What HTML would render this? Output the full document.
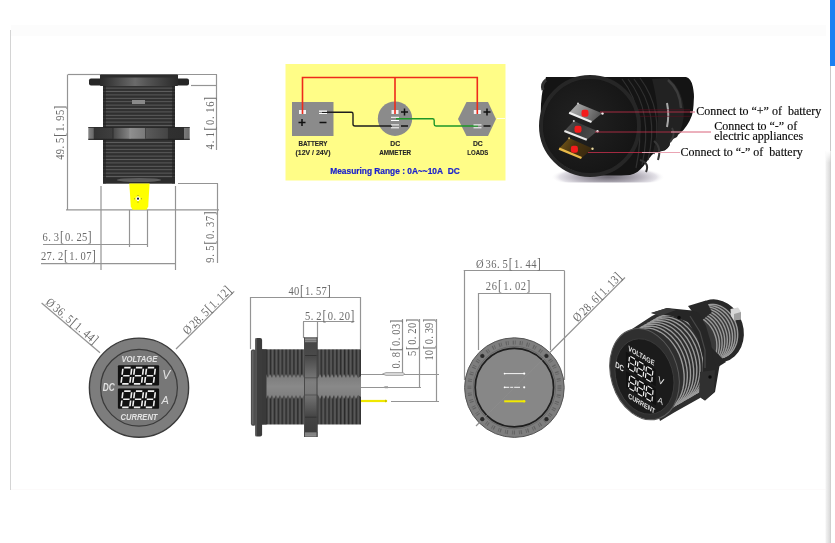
<!DOCTYPE html>
<html><head><meta charset="utf-8"><title>Dimensions</title>
<style>
html,body{margin:0;padding:0;background:#fff;width:835px;height:543px;overflow:hidden}
svg{display:block;position:absolute;left:0;top:0;will-change:transform}
text{font-family:"Liberation Serif",serif}
.dim{font-family:"Liberation Serif",serif;font-size:12.4px;fill:#6a6a6a}
.br{font-size:13.6px}
.phi{font-size:12.4px}
.ln{stroke:#949494;stroke-width:1.2;fill:none}
.sans, .sans text, text.sans{font-family:"Liberation Sans",sans-serif}
</style></head>
<body>
<svg width="835" height="543" viewBox="0 0 835 543">
<defs>
  <pattern id="hthread" x="0" y="86" width="8" height="3.4" patternUnits="userSpaceOnUse">
    <rect width="8" height="3.4" fill="#2f2f2f"/>
    <rect y="1.6" width="8" height="1" fill="#5e5e5e"/>
  </pattern>
  <linearGradient id="nutg" x1="88.3" x2="189.7" y1="0" y2="0" gradientUnits="userSpaceOnUse">
    <stop offset="0" stop-color="#858585"/>
    <stop offset="0.05" stop-color="#6a6a6a"/>
    <stop offset="0.055" stop-color="#343434"/>
    <stop offset="0.24" stop-color="#3e3e3e"/>
    <stop offset="0.25" stop-color="#4a4a4a"/>
    <stop offset="0.41" stop-color="#868686"/>
    <stop offset="0.42" stop-color="#8e8e8e"/>
    <stop offset="0.56" stop-color="#7a7a7a"/>
    <stop offset="0.57" stop-color="#5a5a5a"/>
    <stop offset="0.78" stop-color="#454545"/>
    <stop offset="0.79" stop-color="#303030"/>
    <stop offset="0.94" stop-color="#2e2e2e"/>
    <stop offset="0.945" stop-color="#7a7a7a"/>
    <stop offset="1" stop-color="#6a6a6a"/>
  </linearGradient>
  <linearGradient id="capg" x1="0" x2="1" y1="0" y2="0">
    <stop offset="0" stop-color="#2a2a2a"/>
    <stop offset="0.45" stop-color="#6a6a6a"/>
    <stop offset="0.6" stop-color="#555"/>
    <stop offset="1" stop-color="#2a2a2a"/>
  </linearGradient>
</defs>

<!-- page frame -->
<rect x="0" y="0" width="835" height="543" fill="#fff"/>
<line x1="10.5" y1="30" x2="10.5" y2="490" stroke="#d4d4d4"/>
<rect x="11" y="25" width="815" height="11" fill="#fcfcfc"/>
<line x1="11" y1="489.5" x2="826" y2="489.5" stroke="#fcfafa"/>
<rect x="830" y="0" width="5" height="66" fill="#1b80f2"/>
<line x1="830.5" y1="66" x2="830.5" y2="543" stroke="#c9c9c9"/>
<linearGradient id="sbg" x1="0" x2="1" y1="0" y2="0"><stop offset="0" stop-color="#f4f4f4"/><stop offset="0.5" stop-color="#e6e6e6"/><stop offset="1" stop-color="#d6d6d6"/></linearGradient>
<linearGradient id="sbfade" x1="0" x2="0" y1="0" y2="1"><stop offset="0" stop-color="#fff" stop-opacity="1"/><stop offset="1" stop-color="#fff" stop-opacity="0"/></linearGradient>
<rect x="825.5" y="151" width="5" height="392" fill="url(#sbg)"/>
<rect x="825.5" y="151" width="5" height="12" fill="url(#sbfade)"/>

<!-- ============ DEVICE 1 (top-left side view) ============ -->
<g id="dev1">
  <!-- dimension lines -->
  <line class="ln" x1="68" y1="74.5" x2="100" y2="74.5"/>
  <line class="ln" x1="67.5" y1="74.5" x2="67.5" y2="210"/>
  <line class="ln" x1="66" y1="209.8" x2="219" y2="209.8"/>
  <line class="ln" x1="178" y1="74.5" x2="217" y2="74.5"/>
  <line class="ln" x1="191" y1="85.5" x2="217" y2="85.5"/>
  <line class="ln" x1="216.5" y1="74.5" x2="216.5" y2="150"/>
  <line class="ln" x1="178" y1="183.5" x2="218" y2="183.5"/>
  <line class="ln" x1="217.5" y1="183.5" x2="217.5" y2="263"/>
  <line class="ln" x1="101" y1="186" x2="101" y2="270"/>
  <line class="ln" x1="175.5" y1="186" x2="175.5" y2="270"/>
  <line class="ln" x1="129.5" y1="210" x2="129.5" y2="247"/>
  <line class="ln" x1="147.5" y1="210" x2="147.5" y2="247"/>
  <line class="ln" x1="43" y1="244.5" x2="148" y2="244.5"/>
  <line class="ln" x1="41" y1="263.6" x2="176" y2="263.6"/>
  <text class="dim" transform="scale(0.85,1)" x="50.06 56.69 63.34 70.56 76.61 83.26 89.89 96.54 103.18" y="241.5">6.3<tspan class="br">[</tspan>0.25<tspan class="br">]</tspan></text>
  <text class="dim" transform="scale(0.85,1)" x="48.18 54.84 61.49 68.15 75.40 81.48 88.14 94.80 101.46 108.12" y="259.6">27.2<tspan class="br">[</tspan>1.07<tspan class="br">]</tspan></text>
  <text class="dim" x="0.00 6.56 13.14 19.71 26.86 32.85 39.41 45.98 52.55 59.12" transform="translate(64.1,159.7) rotate(-90) scale(0.85,1)">49.5<tspan class="br">[</tspan>1.95<tspan class="br">]</tspan></text>
  <text class="dim" x="0.00 7.16 14.34 22.09 28.68 35.85 43.01 50.19 57.35" transform="translate(214.3,149.4) rotate(-90) scale(0.85,1)">4.1<tspan class="br">[</tspan>0.16<tspan class="br">]</tspan></text>
  <text class="dim" x="0.00 6.98 13.95 21.52 27.91 34.89 41.87 48.85 55.82" transform="translate(214.3,262.7) rotate(-90) scale(0.85,1)">9.5<tspan class="br">[</tspan>0.37<tspan class="br">]</tspan></text>

  <!-- body -->
  <rect x="103" y="86" width="72" height="97.5" fill="url(#hthread)"/>
  <rect x="103" y="86" width="3" height="97.5" fill="#222" opacity="0.6"/>
  <rect x="172" y="86" width="3" height="97.5" fill="#222" opacity="0.6"/>
  <rect x="132" y="100" width="13" height="4" fill="#8a8a8a"/>
  <!-- bottom highlight -->
  <rect x="103" y="178" width="72" height="5.5" fill="#2c2c2c"/>
  <ellipse cx="139" cy="180" rx="22" ry="2" fill="#6a6a6a" opacity="0.8"/>
  <!-- cap/flange -->
  <rect x="89" y="78.5" width="100" height="7" rx="2" fill="#262626"/>
  <rect x="100" y="74.5" width="78" height="11.5" rx="1" fill="url(#capg)"/>
  <rect x="100" y="74.5" width="78" height="3" fill="#2c2c2c"/>
  <!-- nut -->
  <g>
    <rect x="88.3" y="127.2" width="101.4" height="12.6" fill="url(#nutg)"/>
    <rect x="88.3" y="127.2" width="101.4" height="0.8" fill="#222"/>
    <rect x="88.3" y="138.8" width="101.4" height="1" fill="#1e1e1e"/>
    <rect x="112.6" y="128" width="0.8" height="10.8" fill="#2a2a2a"/>
    <rect x="129.6" y="128" width="0.8" height="10.8" fill="#9a9a9a"/>
    <rect x="145" y="128" width="0.8" height="10.8" fill="#3a3a3a"/>
  </g>
  <!-- yellow terminal -->
  <path d="M129.3 183.6 L149.6 183.6 L148.2 206.5 L146.5 209.7 L132.5 209.7 L130.8 206.5 Z" fill="#ffff00"/>
  <path d="M135.7 198.7 h4.6 M138 196.4 v4.6" stroke="#fff" stroke-width="2.2"/>
  <circle cx="138" cy="198.7" r="1.1" fill="#1a1a3a"/>
  <g fill="#6a6a30"><circle cx="138" cy="195.4" r="0.5"/><circle cx="138" cy="202.1" r="0.5"/><circle cx="134.6" cy="198.7" r="0.5"/><circle cx="141.4" cy="198.7" r="0.5"/></g>
</g>

<!-- ============ WIRING DIAGRAM (yellow box) ============ -->
<g id="wiring">
  <rect x="285.5" y="64" width="220" height="116.5" fill="#fffd87"/>
  <!-- battery -->
  <rect x="292" y="102" width="41.5" height="34" fill="#8b8b8b"/>
  <!-- ammeter -->
  <circle cx="395" cy="118.7" r="17.2" fill="#8b8b8b"/>
  <!-- loads hexagon -->
  <polygon points="466.5,102 488,102 496,119 488,136 466.5,136 458,119" fill="#8b8b8b"/>
  <!-- red wire -->
  <path d="M302.5 111 V77.5 H477.3 V111 M395 77.5 V111" stroke="#ee2a1b" stroke-width="1.6" fill="none"/>
  <!-- black wire -->
  <path d="M322 112.3 H351.5 Q353 112.3 353 114 V124.3 Q353 126 355 126 H392" stroke="#1d1d1d" stroke-width="1.4" fill="none"/>
  <!-- green wire -->
  <path d="M396 118.8 H432.5 Q434.2 118.8 434.2 120.5 V124.3 Q434.2 126 436 126 H478" stroke="#1e9628" stroke-width="1.4" fill="none"/>
  <!-- terminals -->
  <rect x="299" y="110" width="7" height="4" fill="#f2f2f2"/>
  <rect x="301.7" y="110" width="1.6" height="4" fill="#ee2a1b"/>
  <rect x="319" y="110.5" width="8" height="1.3" fill="#fff"/>
  <rect x="319" y="113" width="8" height="1" fill="#fff"/>
  <rect x="391.5" y="110" width="7" height="4" fill="#f2f2f2"/>
  <rect x="394.2" y="110" width="1.6" height="4" fill="#ee2a1b"/>
  <rect x="391" y="116.8" width="8" height="1" fill="#fff"/>
  <rect x="391" y="120" width="8" height="1" fill="#fff"/>
  <rect x="391" y="124.4" width="8" height="1" fill="#fff"/>
  <rect x="391" y="127.3" width="8" height="1" fill="#fff"/>
  <rect x="473.8" y="110" width="7" height="4" fill="#f2f2f2"/>
  <rect x="476.5" y="110" width="1.6" height="4" fill="#ee2a1b"/>
  <rect x="473.5" y="124.4" width="8" height="1" fill="#fff"/>
  <rect x="473.5" y="127.3" width="8" height="1" fill="#fff"/>
  <!-- + / - signs -->
  <g stroke="#111" stroke-width="1.5">
    <path d="M298.5 122.5 h7 M302 119 v7"/>
    <path d="M319.5 122.5 h7"/>
    <path d="M401 112 h7 M404.5 108.5 v7"/>
    <path d="M401 126 h7"/>
    <path d="M483.5 112 h7 M487 108.5 v7"/>
    <path d="M483.5 126 h7"/>
  </g>
  <path d="M497 118.5 h8" stroke="#fff" stroke-width="1" opacity="0.8"/>
  <!-- labels -->
  <g class="sans" font-weight="bold" font-size="6.8px" fill="#262626" stroke="#262626" stroke-width="0.12" text-anchor="middle">
    <text x="313" y="146" textLength="29" lengthAdjust="spacingAndGlyphs">BATTERY</text>
    <text x="313" y="154.5" textLength="35" lengthAdjust="spacingAndGlyphs">(12V / 24V)</text>
    <text x="395.2" y="146">DC</text>
    <text x="395.2" y="154.5" textLength="32" lengthAdjust="spacingAndGlyphs">AMMETER</text>
    <text x="477.8" y="146">DC</text>
    <text x="477.8" y="154.5" textLength="21" lengthAdjust="spacingAndGlyphs">LOADS</text>
  </g>
  <text class="sans" x="395" y="174.3" font-weight="bold" font-size="8.5px" fill="#1c22cc" stroke="#1c22cc" stroke-width="0.2" text-anchor="middle" textLength="129.5" lengthAdjust="spacingAndGlyphs">Measuring Range : 0A~~10A&#160; DC</text>
</g>

<!-- ============ PHOTO 1 (top-right) ============ -->
<g id="photo1">
  <defs>
    <linearGradient id="shadow1" x1="0" y1="0" x2="0" y2="1">
      <stop offset="0" stop-color="#9a9a9a"/>
      <stop offset="1" stop-color="#fff"/>
    </linearGradient>
    <radialGradient id="shadow1r" cx="0.5" cy="0.5" r="0.5">
      <stop offset="0" stop-color="#6e6a74"/>
      <stop offset="0.55" stop-color="#b4b0ba"/>
      <stop offset="0.85" stop-color="#e4e2e8"/>
      <stop offset="1" stop-color="#fff" stop-opacity="0"/>
    </radialGradient>
    <radialGradient id="faceg" cx="0.4" cy="0.45" r="0.7">
      <stop offset="0" stop-color="#222"/>
      <stop offset="1" stop-color="#131313"/>
    </radialGradient>
  </defs>
  <clipPath id="shclip"><rect x="540" y="150" width="130" height="32.6"/></clipPath>
  <ellipse cx="608" cy="177" rx="57" ry="11" fill="url(#shadow1r)" clip-path="url(#shclip)"/>
  <path d="M546 77 L686 77 Q691 78 692.8 86.6 Q694.5 95 693.8 100 Q693.5 110 691.9 115.6 Q690 121 687 125.3 Q684 130 680.3 133 Q677 135.5 673.5 137 L670.6 139 L669.6 145.6 Q668 149 664.8 150.4 L655 152.4 Q651 155 649.3 158.2 L643.5 166 Q640 170 637.7 171.7 Q634 174 630 175 Q600 177 578 172.5 Q556 165 547 148 Q539 130 541 104 Q542 88 546 77 Z" fill="#141414"/>
  <!-- threads / nut highlights -->
  <g fill="none" stroke="#303030" stroke-width="1.2">
    <path d="M622 79 Q648 112 636 168"/>
    <path d="M628 79 Q654 112 642 165"/>
    <path d="M634 79 Q660 112 648 160"/>
    <path d="M640 78 Q664 110 654 154"/>
  </g>
  <path d="M652 79 L668 78 Q682 88 684 110 Q684 126 677 137 L671 140 L669 146 Q666 150 660 151 L653 152 Q660 130 657 105 Q655 90 652 79 Z" fill="#222"/>
  <path d="M668 80 Q680 90 681 108" stroke="#3c3c3c" stroke-width="2.5" fill="none"/>
  <path d="M667 103 Q669.5 115 667 127" stroke="#a8a8a8" stroke-width="2" fill="none"/>
  <path d="M672 128 Q676 135 670 142" stroke="#3a3a3a" stroke-width="2" fill="none"/>
  <path d="M654 141 Q662 147 658 160" stroke="#383838" stroke-width="2" fill="none"/>
  <path d="M640 160 Q650 163 646 172" stroke="#333" stroke-width="2" fill="none"/>
  <g stroke="#5a1020" stroke-width="0.7" fill="none" opacity="0.9">
    <line x1="600" y1="109.8" x2="690" y2="109.8"/>
    <line x1="600" y1="116.3" x2="690" y2="116.3"/>
  </g>
  <!-- face -->
  <circle cx="590" cy="126" r="47" fill="url(#faceg)"/>
  <circle cx="590" cy="126" r="49" fill="none" stroke="#262626" stroke-width="4"/>
  <path d="M546 80 Q541 84 543 90" stroke="#333" stroke-width="3" fill="none"/>
  <!-- terminals -->
  <defs>
    <linearGradient id="t1g" x1="0" y1="0" x2="1" y2="0.3">
      <stop offset="0" stop-color="#b8b8b8"/><stop offset="0.5" stop-color="#8c8c8c"/><stop offset="1" stop-color="#5a5a5a"/>
    </linearGradient>
    <linearGradient id="t2g" x1="0" y1="0" x2="1" y2="0.3">
      <stop offset="0" stop-color="#555"/><stop offset="0.5" stop-color="#3a3a3a"/><stop offset="1" stop-color="#4a4a4a"/>
    </linearGradient>
    <linearGradient id="t3g" x1="0" y1="0" x2="1" y2="0.3">
      <stop offset="0" stop-color="#7a5c1a"/><stop offset="0.5" stop-color="#4a3510"/><stop offset="1" stop-color="#3a2a10"/>
    </linearGradient>
  </defs>
  <polygon points="578,103.3 602.1,113.3 591.5,122.1 569.1,112.7" fill="url(#t1g)"/>
  <path d="M569.1 112.7 L591.5 122.1" stroke="#f0f0f0" stroke-width="2.2"/>
  <polygon points="573.8,121 597.4,131 586.8,139.8 564.4,131" fill="url(#t2g)"/>
  <path d="M564.4 131 L586.8 139.8" stroke="#e8e8e8" stroke-width="2.2"/>
  <polygon points="569.1,138 592.7,148.6 581.5,158 559.1,148.6" fill="url(#t3g)"/>
  <path d="M559.1 148.6 L581.5 158" stroke="#e9b949" stroke-width="2.4"/>
  <rect x="581.5" y="109.8" width="7" height="7" rx="2.2" fill="#f41c1c"/>
  <rect x="574.5" y="125.7" width="7" height="7" rx="2.2" fill="#f41c1c"/>
  <rect x="570.9" y="145.7" width="7" height="7" rx="2.2" fill="#f41c1c"/>
  <circle cx="602.5" cy="113.5" r="1.2" fill="#eee"/>
  <circle cx="597.5" cy="131.2" r="1.2" fill="#eee"/>
  <circle cx="592.5" cy="148.8" r="1.2" fill="#e8d8a0"/>
  <circle cx="578" cy="103.5" r="1" fill="#ccc"/>
  <circle cx="573.8" cy="121" r="1" fill="#ccc"/>
  <circle cx="569.1" cy="138.2" r="1" fill="#cdb070"/>
  <!-- pointer lines -->
  <g stroke="#c8304c" stroke-width="0.8" fill="none">
    <line x1="600" y1="112" x2="695" y2="112"/>
    <line x1="595" y1="132" x2="711" y2="132"/>
    <line x1="588" y1="152.5" x2="680" y2="152.5"/>
  </g>
  <g stroke="#f0b8c4" stroke-width="0.8" fill="none">
    <line x1="690" y1="112" x2="695" y2="112"/>
    <line x1="671" y1="132" x2="711" y2="132"/>
    <line x1="642" y1="152.5" x2="680" y2="152.5"/>
  </g>
  <!-- labels -->
  <g font-family="Liberation Serif" font-size="12px" fill="#0a0a0a" stroke="#0a0a0a" stroke-width="0.15">
    <text x="696.2" y="114.7">Connect to “+” of&#160; battery</text>
    <text x="714.2" y="129.6">Connect to “-” of</text>
    <text x="714.2" y="139.9">electric appliances</text>
    <text x="680.4" y="156">Connect to “-” of&#160; battery</text>
  </g>
</g>

<!-- ============ DEVICE 3 (front view) ============ -->
<g id="dev3">
  <defs>
    <g id="seg7"><path transform="skewX(-7)" d="M1.3 0 H7.7 M8.9 1.2 V7.1 M8.9 9.3 V15.2 M1.3 16.3 H7.7 M0.1 9.3 V15.2 M0.1 1.2 V7.1 M1.3 8.2 H7.7" fill="none" stroke="#f0f0f0" stroke-width="1.6" stroke-linecap="butt"/></g>
  <g id="facecontent">
  <rect x="117.9" y="365.2" width="41.2" height="20.4" rx="1" fill="#111"/>
  <rect x="117.9" y="388.6" width="41.2" height="20.1" rx="1" fill="#111"/>
  <use href="#seg7" x="122.9" y="367.6"/>
  <use href="#seg7" x="134.6" y="367.6"/>
  <use href="#seg7" x="146.5" y="367.6"/>
  <use href="#seg7" x="122.9" y="391.1"/>
  <use href="#seg7" x="134.6" y="391.1"/>
  <use href="#seg7" x="146.5" y="391.1"/>
  <g class="sans" font-style="italic" font-weight="bold" fill="#e2e2e2">
    <text x="139.4" y="361.9" font-size="9.2px" text-anchor="middle" textLength="36" lengthAdjust="spacingAndGlyphs">VOLTAGE</text>
    <text x="139" y="419.8" font-size="9.2px" text-anchor="middle" textLength="37" lengthAdjust="spacingAndGlyphs">CURRENT</text>
    <text x="102.8" y="391.4" font-size="10.5px" textLength="12" lengthAdjust="spacingAndGlyphs">DC</text>
    <text x="162.3" y="379.3" font-size="12px" font-weight="normal">V</text>
    <text x="161.5" y="403.7" font-size="11px" font-weight="normal">A</text>
  </g>
</g>
  </defs>
  <line class="ln" x1="41.6" y1="303" x2="100" y2="352.8"/>
  <line class="ln" x1="176" y1="349" x2="234.2" y2="291.4"/>
  <text class="dim" x="0.00 11.06 17.68 24.31 30.93 38.14 44.18 50.80 57.42 64.05 70.67" transform="translate(45.04,303.38) rotate(40.4) scale(0.85,1)"><tspan class="phi">Ø</tspan>36.5<tspan class="br">[</tspan>1.44<tspan class="br">]</tspan></text>
  <text class="dim" x="0.00 11.06 17.52 23.98 30.44 37.48 43.35 49.81 56.27 62.73 69.19" transform="translate(187.58,335.26) rotate(-44.67) scale(0.85,1)"><tspan class="phi">Ø</tspan>28.5<tspan class="br">[</tspan>1.12<tspan class="br">]</tspan></text>
  <circle cx="139" cy="387.7" r="49.6" fill="#7d7d7d" stroke="#3a3a3a" stroke-width="1.4"/>
  <circle cx="139" cy="387.7" r="38.4" fill="#777" stroke="#3a3a3a" stroke-width="1.2"/>
  <use href="#facecontent"/>

</g>

<!-- ============ DEVICE 4 (side view) ============ -->
<g id="dev4">
  <defs>
    <pattern id="vthread" x="266" y="0" width="3.9" height="10" patternUnits="userSpaceOnUse">
      <rect width="3.9" height="10" fill="#4c4c4c"/>
      <rect x="0" width="1.3" height="10" fill="#2a2a2a"/>
      <rect x="2.2" width="0.9" height="10" fill="#606060"/>
    </pattern>
    <linearGradient id="midband" x1="0" y1="0" x2="0" y2="1">
      <stop offset="0" stop-color="#7a7a7a"/>
      <stop offset="0.5" stop-color="#898989"/>
      <stop offset="1" stop-color="#7c7c7c"/>
    </linearGradient>
    <linearGradient id="nut4g" x1="0" y1="0" x2="0" y2="1">
      <stop offset="0" stop-color="#444"/>
      <stop offset="0.2" stop-color="#4a4a4a"/>
      <stop offset="0.45" stop-color="#7e7e7e"/>
      <stop offset="0.55" stop-color="#7a7a7a"/>
      <stop offset="0.8" stop-color="#444"/>
      <stop offset="1" stop-color="#3a3a3a"/>
    </linearGradient>
  </defs>
  <!-- dims -->
  <line class="ln" x1="250.5" y1="297.5" x2="360.7" y2="297.5"/>
  <line class="ln" x1="250.5" y1="297" x2="250.5" y2="349"/>
  <line class="ln" x1="360.5" y1="297" x2="360.5" y2="349"/>
  <text class="dim" transform="scale(0.85,1)" x="339.47 345.95 353.01 358.91 365.39 371.87 378.34 384.82" y="294.6">40<tspan class="br">[</tspan>1.57<tspan class="br">]</tspan></text>
  <line class="ln" x1="303" y1="321.5" x2="354.4" y2="321.5"/>
  <line class="ln" x1="303.5" y1="321.7" x2="303.5" y2="338"/>
  <line class="ln" x1="317.5" y1="321.7" x2="317.5" y2="338"/>
  <text class="dim" transform="scale(0.85,1)" x="358.76 365.46 372.16 379.45 385.56 392.26 398.95 405.66 412.35" y="319.6">5.2<tspan class="br">[</tspan>0.20<tspan class="br">]</tspan></text>
  <line class="ln" x1="402.5" y1="319" x2="402.5" y2="374.4"/>
  <line class="ln" x1="419.5" y1="319" x2="419.5" y2="387.3"/>
  <line class="ln" x1="436.5" y1="319" x2="436.5" y2="401"/>
  <text class="dim" x="0.00 6.62 13.25 20.46 26.51 33.13 39.75 46.38 53.00" transform="translate(400.2,368.5) rotate(-90) scale(0.85,1)">0.8<tspan class="br">[</tspan>0.03<tspan class="br">]</tspan></text>
  <text class="dim" x="0.00 7.16 13.15 19.74 26.32 32.89 39.47" transform="translate(416,356) rotate(-90) scale(0.85,1)">5<tspan class="br">[</tspan>0.20<tspan class="br">]</tspan></text>
  <text class="dim" x="0.00 6.41 13.41 19.24 25.65 32.06 38.47 44.88" transform="translate(433,360.6) rotate(-90) scale(0.85,1)">10<tspan class="br">[</tspan>0.39<tspan class="br">]</tspan></text>
  <line class="ln" x1="361" y1="374.5" x2="439" y2="374.5"/>
  <line class="ln" x1="361" y1="387.5" x2="421" y2="387.5"/>
  <line class="ln" x1="391" y1="401.5" x2="439" y2="401.5"/>
  <!-- pins -->
  <path d="M382.5 374 L386 372.6 L403 372.6 L404.7 374 L403 375.4 L386 375.4 Z" fill="#ddd" stroke="#777" stroke-width="0.6"/>
  <path d="M383 387.3 L385 386.3 L388 386.3 L388 388.3 L385 388.3 Z" fill="#999"/>
  <rect x="361" y="399.9" width="26" height="2.2" fill="#f0e800"/>
  <path d="M385 399.6 L387.5 401 L385 402.4 Z" fill="#c8c000"/>
  <!-- body -->
  <rect x="262" y="349.3" width="99" height="75.2" fill="url(#vthread)"/>
  <path d="M266 374 L268 378 L270 374 L272 378 L274 374 L276 378 L278 374 L280 378 L282 374 L284 378 L286 374 L288 378 L290 374 L292 378 L294 374 L296 378 L298 374 L300 378 L302 374 L304 378 L318 378 L320 374 L322 378 L324 374 L326 378 L328 374 L330 378 L332 374 L334 378 L336 374 L338 378 L340 374 L342 378 L344 374 L346 378 L348 374 L350 378 L352 374 L354 378 L356 374 L358 378 L361 376 L361 397 L358 395 L356 399 L354 395 L352 399 L350 395 L348 399 L346 395 L344 399 L342 395 L340 399 L338 395 L336 399 L334 395 L332 399 L330 395 L328 399 L326 395 L324 399 L322 395 L320 399 L318 395 L304 395 L302 399 L300 395 L298 399 L296 395 L294 399 L292 395 L290 399 L288 395 L286 399 L284 395 L282 399 L280 395 L278 399 L276 395 L274 399 L272 395 L270 399 L268 395 L266 399 Z" fill="url(#midband)"/>
  <rect x="262" y="349.3" width="4.5" height="75.2" fill="#3a3a3a"/>
  <rect x="255.3" y="338" width="6.8" height="98.4" rx="2" fill="#3c3c3c"/>
  <rect x="255.3" y="338" width="1.5" height="98.4" rx="0.7" fill="#5a5a5a"/>
  <rect x="250.9" y="349.5" width="5" height="76.3" rx="2" fill="#4e4e4e"/>
  <rect x="252.3" y="351" width="1" height="73" fill="#6e6e6e"/>
  <!-- nut -->
  <rect x="304" y="337.4" width="13.5" height="99.6" rx="1" fill="url(#nut4g)"/>
  <rect x="304" y="337.4" width="13.5" height="5" fill="#6a6a6a"/>
  <rect x="304" y="338.8" width="13.5" height="0.8" fill="#aaa"/>
  <rect x="304" y="340.8" width="13.5" height="0.8" fill="#999"/>
  <rect x="304" y="432" width="13.5" height="5" fill="#6a6a6a"/>
  <rect x="304" y="433.6" width="13.5" height="0.8" fill="#aaa"/>
  <rect x="304" y="435.3" width="13.5" height="0.8" fill="#999"/>
  <rect x="304" y="355" width="13.5" height="1" fill="#333"/>
  <rect x="304" y="377.3" width="13.5" height="1" fill="#555"/>
  <rect x="304" y="394.5" width="13.5" height="1" fill="#555"/>
  <rect x="304" y="416.7" width="13.5" height="1" fill="#333"/>
  <rect x="304" y="337.4" width="1" height="99.6" fill="#4a4a4a"/>
  <rect x="316.5" y="337.4" width="1" height="99.6" fill="#444"/>
</g>

<!-- ============ DEVICE 5 (back view) ============ -->
<g id="dev5">
  <line class="ln" x1="463.7" y1="270.5" x2="564.6" y2="270.5"/>
  <line class="ln" x1="464.5" y1="270.8" x2="464.5" y2="380"/>
  <line class="ln" x1="564.5" y1="270.8" x2="564.5" y2="380"/>
  <text class="dim" transform="scale(0.85,1)" x="560.12 571.18 577.89 584.61 591.33 598.64 604.76 611.48 618.20 624.92 631.64" y="268.4"><tspan class="phi">Ø</tspan>36.5<tspan class="br">[</tspan>1.44<tspan class="br">]</tspan></text>
  <line class="ln" x1="478" y1="293.5" x2="551" y2="293.5"/>
  <line class="ln" x1="478.5" y1="293.1" x2="478.5" y2="350"/>
  <line class="ln" x1="550.5" y1="293.1" x2="550.5" y2="350"/>
  <text class="dim" transform="scale(0.85,1)" x="571.59 578.44 585.87 592.13 598.99 605.84 612.68 619.53" y="290.4">26<tspan class="br">[</tspan>1.02<tspan class="br">]</tspan></text>
  <line class="ln" x1="476" y1="426" x2="625" y2="277.5"/>
  <text class="dim" x="0.00 11.06 17.64 24.21 30.79 37.95 43.94 50.52 57.09 63.67 70.25" transform="translate(577.57,322.57) rotate(-44.94) scale(0.85,1)"><tspan class="phi">Ø</tspan>28.6<tspan class="br">[</tspan>1.13<tspan class="br">]</tspan></text>
  <circle cx="514.4" cy="387.6" r="49.8" fill="#7e7e7e" stroke="#555" stroke-width="1"/>
  <circle cx="514.4" cy="387.6" r="45" fill="none" stroke="#636363" stroke-width="4" stroke-dasharray="1.2 1 0.8 4"/>
  <circle cx="514.4" cy="387.6" r="41.2" fill="none" stroke="#6a6a6a" stroke-width="1"/>
  <circle cx="514.4" cy="387.6" r="39.2" fill="#878787" stroke="#1e1e1e" stroke-width="1.7"/>
  <line x1="476" y1="426" x2="567" y2="335.3" stroke="#8f8f8f" stroke-width="0.6"/>
  <circle cx="482.3" cy="356" r="2.1" fill="#2a2a2a"/>
  <circle cx="546.5" cy="356" r="2.1" fill="#2a2a2a"/>
  <circle cx="482.3" cy="419.2" r="2.1" fill="#2a2a2a"/>
  <circle cx="546.5" cy="419.2" r="2.1" fill="#2a2a2a"/>
  <path d="M504.2 373.6 H524.4" stroke="#f4f4f4" stroke-width="1"/>
  <circle cx="504.6" cy="373.6" r="0.9" fill="#fff"/><circle cx="524.2" cy="373.6" r="1.1" fill="#fff"/>
  <path d="M504.2 387.3 H520" stroke="#f4f4f4" stroke-width="1" stroke-dasharray="5 1 3 1 6 0"/>
  <circle cx="504.6" cy="387.3" r="0.9" fill="#fff"/><circle cx="524.2" cy="387.3" r="1.1" fill="#fff"/>
  <path d="M504.2 401.3 H524.4" stroke="#f2ea00" stroke-width="2"/>
  <circle cx="524.2" cy="401.3" r="1.2" fill="#f2ea00"/>
</g>

<!-- ============ PHOTO 2 (3D render) ============ -->
<g id="photo2">
  <defs>
    <clipPath id="p2frontc"><path d="M632 329 L652 316 L664 310 L686 318 L700 340 L706 362 L700 398 L675 412 L660 421 Z"/></clipPath>
    <clipPath id="p2backc"><ellipse cx="716" cy="331" rx="23.5" ry="28" transform="rotate(-17 716 331)"/></clipPath>
  </defs>
  <!-- back cylinder rim -->
  <ellipse cx="716" cy="331" rx="27.5" ry="32" transform="rotate(-17 716 331)" fill="#282828"/>
  <ellipse cx="714" cy="332" rx="23.5" ry="28" transform="rotate(-17 714 332)" fill="#3a3a3a"/>
  <g clip-path="url(#p2backc)" fill="none" stroke="#9a9a9a" stroke-width="1.4">
    <path d="M681.0 317.8 L683.5 316.7 L686.1 315.9 L688.8 315.4 L691.5 315.4 L694.3 315.7 L697.0 316.3 L699.7 317.3 L702.3 318.7 L704.8 320.4 L707.1 322.4 L709.2 324.6 L711.1 327.1 L712.8 329.8 L714.2 332.7 L715.3 335.7 L716.2 338.8 L716.7 342.0 L716.9 345.2 L716.8 348.3 L716.4 351.4 L715.7 354.4 L714.6 357.2 L713.3 359.9 L711.7 362.3 L709.9 364.4 L707.8 366.3 L705.5 367.8 L703.1 369.1"/>
    <path d="M683.6 316.4 L686.1 315.3 L688.7 314.5 L691.4 314.0 L694.1 314.0 L696.9 314.3 L699.6 314.9 L702.3 315.9 L704.9 317.3 L707.4 319.0 L709.7 321.0 L711.8 323.2 L713.7 325.7 L715.4 328.4 L716.8 331.3 L717.9 334.3 L718.8 337.4 L719.3 340.6 L719.5 343.8 L719.4 346.9 L719.0 350.0 L718.3 353.0 L717.2 355.8 L715.9 358.5 L714.3 360.9 L712.5 363.0 L710.4 364.9 L708.1 366.4 L705.7 367.7"/>
    <path d="M686.2 315.0 L688.7 313.9 L691.3 313.1 L694.0 312.6 L696.7 312.6 L699.5 312.9 L702.2 313.5 L704.9 314.5 L707.5 315.9 L710.0 317.6 L712.3 319.6 L714.4 321.8 L716.3 324.3 L718.0 327.0 L719.4 329.9 L720.5 332.9 L721.4 336.0 L721.9 339.2 L722.1 342.4 L722.0 345.5 L721.6 348.6 L720.9 351.6 L719.8 354.4 L718.5 357.1 L716.9 359.5 L715.1 361.6 L713.0 363.5 L710.7 365.0 L708.3 366.3"/>
    <path d="M688.8 313.6 L691.3 312.5 L693.9 311.7 L696.6 311.2 L699.3 311.2 L702.1 311.5 L704.8 312.1 L707.5 313.1 L710.1 314.5 L712.6 316.2 L714.9 318.2 L717.0 320.4 L718.9 322.9 L720.6 325.6 L722.0 328.5 L723.1 331.5 L724.0 334.6 L724.5 337.8 L724.7 341.0 L724.6 344.1 L724.2 347.2 L723.5 350.2 L722.4 353.0 L721.1 355.7 L719.5 358.1 L717.7 360.2 L715.6 362.1 L713.3 363.6 L710.9 364.9"/>
    <path d="M691.4 312.2 L693.9 311.1 L696.5 310.3 L699.2 309.8 L701.9 309.8 L704.7 310.1 L707.4 310.7 L710.1 311.7 L712.7 313.1 L715.2 314.8 L717.5 316.8 L719.6 319.0 L721.5 321.5 L723.2 324.2 L724.6 327.1 L725.7 330.1 L726.6 333.2 L727.1 336.4 L727.3 339.6 L727.2 342.7 L726.8 345.8 L726.1 348.8 L725.0 351.6 L723.7 354.3 L722.1 356.7 L720.3 358.8 L718.2 360.7 L715.9 362.2 L713.5 363.5"/>
    <path d="M694.0 310.8 L696.5 309.7 L699.1 308.9 L701.8 308.4 L704.5 308.4 L707.3 308.7 L710.0 309.3 L712.7 310.3 L715.3 311.7 L717.8 313.4 L720.1 315.4 L722.2 317.6 L724.1 320.1 L725.8 322.8 L727.2 325.7 L728.3 328.7 L729.2 331.8 L729.7 335.0 L729.9 338.2 L729.8 341.3 L729.4 344.4 L728.7 347.4 L727.6 350.2 L726.3 352.9 L724.7 355.3 L722.9 357.4 L720.8 359.3 L718.5 360.8 L716.1 362.1"/>
    <path d="M696.6 309.4 L699.1 308.3 L701.7 307.5 L704.4 307.0 L707.1 307.0 L709.9 307.3 L712.6 307.9 L715.3 308.9 L717.9 310.3 L720.4 312.0 L722.7 314.0 L724.8 316.2 L726.7 318.7 L728.4 321.4 L729.8 324.3 L730.9 327.3 L731.8 330.4 L732.3 333.6 L732.5 336.8 L732.4 339.9 L732.0 343.0 L731.3 346.0 L730.2 348.8 L728.9 351.5 L727.3 353.9 L725.5 356.0 L723.4 357.9 L721.1 359.4 L718.7 360.7"/>
    <path d="M699.2 308.0 L701.7 306.9 L704.3 306.1 L707.0 305.6 L709.7 305.6 L712.5 305.9 L715.2 306.5 L717.9 307.5 L720.5 308.9 L723.0 310.6 L725.3 312.6 L727.4 314.8 L729.3 317.3 L731.0 320.0 L732.4 322.9 L733.5 325.9 L734.4 329.0 L734.9 332.2 L735.1 335.4 L735.0 338.5 L734.6 341.6 L733.9 344.6 L732.8 347.4 L731.5 350.1 L729.9 352.5 L728.1 354.6 L726.0 356.5 L723.7 358.0 L721.3 359.3"/>
    <path d="M701.8 306.6 L704.3 305.5 L706.9 304.7 L709.6 304.2 L712.3 304.2 L715.1 304.5 L717.8 305.1 L720.5 306.1 L723.1 307.5 L725.6 309.2 L727.9 311.2 L730.0 313.4 L731.9 315.9 L733.6 318.6 L735.0 321.5 L736.1 324.5 L737.0 327.6 L737.5 330.8 L737.7 334.0 L737.6 337.1 L737.2 340.2 L736.5 343.2 L735.4 346.0 L734.1 348.7 L732.5 351.1 L730.7 353.2 L728.6 355.1 L726.3 356.6 L723.9 357.9"/>
  </g>
  <path d="M688 306 L706 300.5 L712 312 L700 322 Z" fill="#282828"/>
  <path d="M704 340 L722 358 L726 362 L718 367 L712 368 Z" fill="#262626"/>
  <!-- front cylinder body -->
  <path d="M632 329 L652 316 L664 310 L686 318 L700 340 L706 362 L700 398 L675 412 L660 421 Z" fill="#2e2e2e"/>
  <g clip-path="url(#p2frontc)" fill="none" stroke="#9a9a9a" stroke-width="1.4">
    <path d="M634.5 331.1 L637.9 329.4 L641.5 328.4 L645.3 327.9 L649.1 328.1 L653.0 328.9 L656.9 330.3 L660.8 332.3 L664.4 334.8 L668.0 337.9 L671.2 341.4 L674.2 345.4 L676.9 349.7 L679.2 354.3 L681.1 359.2 L682.5 364.2 L683.5 369.3 L684.1 374.4 L684.2 379.4 L683.8 384.3 L682.9 389.0 L681.6 393.4 L679.8 397.5 L677.6 401.2 L675.1 404.4 L672.2 407.1 L669.0 409.2 L665.6 410.8 L661.9 411.8"/>
    <path d="M637.6 329.2 L641.0 327.6 L644.7 326.5 L648.4 326.1 L652.3 326.2 L656.2 327.0 L660.1 328.4 L663.9 330.4 L667.6 333.0 L671.1 336.0 L674.4 339.6 L677.4 343.5 L680.0 347.8 L682.3 352.5 L684.2 357.3 L685.7 362.3 L686.7 367.4 L687.3 372.5 L687.3 377.6 L686.9 382.5 L686.1 387.2 L684.7 391.6 L683.0 395.7 L680.8 399.3 L678.3 402.5 L675.4 405.2 L672.2 407.4 L668.7 409.0 L665.1 409.9"/>
    <path d="M640.8 327.4 L644.2 325.7 L647.8 324.7 L651.6 324.2 L655.5 324.4 L659.4 325.2 L663.3 326.6 L667.1 328.6 L670.8 331.1 L674.3 334.2 L677.6 337.7 L680.6 341.7 L683.2 346.0 L685.5 350.6 L687.4 355.5 L688.9 360.5 L689.9 365.6 L690.4 370.7 L690.5 375.8 L690.1 380.7 L689.2 385.4 L687.9 389.8 L686.2 393.8 L684.0 397.5 L681.4 400.7 L678.5 403.4 L675.4 405.5 L671.9 407.1 L668.3 408.1"/>
    <path d="M644.0 325.6 L647.4 323.9 L651.0 322.9 L654.8 322.4 L658.6 322.6 L662.5 323.4 L666.4 324.8 L670.3 326.8 L673.9 329.3 L677.5 332.4 L680.7 335.9 L683.7 339.9 L686.4 344.2 L688.7 348.8 L690.6 353.7 L692.0 358.7 L693.0 363.8 L693.6 368.9 L693.7 373.9 L693.3 378.8 L692.4 383.5 L691.1 387.9 L689.3 392.0 L687.1 395.7 L684.6 398.9 L681.7 401.6 L678.5 403.7 L675.1 405.3 L671.4 406.3"/>
    <path d="M647.1 323.7 L650.5 322.1 L654.2 321.0 L657.9 320.6 L661.8 320.7 L665.7 321.5 L669.6 322.9 L673.4 324.9 L677.1 327.5 L680.6 330.5 L683.9 334.1 L686.9 338.0 L689.5 342.3 L691.8 347.0 L693.7 351.8 L695.2 356.8 L696.2 361.9 L696.8 367.0 L696.8 372.1 L696.4 377.0 L695.6 381.7 L694.2 386.1 L692.5 390.2 L690.3 393.8 L687.8 397.0 L684.9 399.7 L681.7 401.9 L678.2 403.5 L674.6 404.4"/>
    <path d="M650.3 321.9 L653.7 320.2 L657.3 319.2 L661.1 318.7 L665.0 318.9 L668.9 319.7 L672.8 321.1 L676.6 323.1 L680.3 325.6 L683.8 328.7 L687.1 332.2 L690.1 336.2 L692.7 340.5 L695.0 345.1 L696.9 350.0 L698.4 355.0 L699.4 360.1 L699.9 365.2 L700.0 370.3 L699.6 375.2 L698.7 379.9 L697.4 384.3 L695.7 388.3 L693.5 392.0 L690.9 395.2 L688.0 397.9 L684.9 400.0 L681.4 401.6 L677.8 402.6"/>
    <path d="M653.5 320.1 L656.9 318.4 L660.5 317.4 L664.3 316.9 L668.1 317.1 L672.0 317.9 L675.9 319.3 L679.8 321.3 L683.4 323.8 L687.0 326.9 L690.2 330.4 L693.2 334.4 L695.9 338.7 L698.2 343.3 L700.1 348.2 L701.5 353.2 L702.5 358.3 L703.1 363.4 L703.2 368.4 L702.8 373.3 L701.9 378.0 L700.6 382.4 L698.8 386.5 L696.6 390.2 L694.1 393.4 L691.2 396.1 L688.0 398.2 L684.6 399.8 L680.9 400.8"/>
    <path d="M656.6 318.2 L660.0 316.6 L663.7 315.5 L667.4 315.1 L671.3 315.2 L675.2 316.0 L679.1 317.4 L682.9 319.4 L686.6 322.0 L690.1 325.0 L693.4 328.6 L696.4 332.5 L699.0 336.8 L701.3 341.5 L703.2 346.3 L704.7 351.3 L705.7 356.4 L706.3 361.5 L706.3 366.6 L705.9 371.5 L705.1 376.2 L703.7 380.6 L702.0 384.7 L699.8 388.3 L697.3 391.5 L694.4 394.2 L691.2 396.4 L687.7 398.0 L684.1 398.9"/>
    <path d="M659.8 316.4 L663.2 314.7 L666.8 313.7 L670.6 313.2 L674.5 313.4 L678.4 314.2 L682.3 315.6 L686.1 317.6 L689.8 320.1 L693.3 323.2 L696.6 326.7 L699.6 330.7 L702.2 335.0 L704.5 339.6 L706.4 344.5 L707.9 349.5 L708.9 354.6 L709.4 359.7 L709.5 364.8 L709.1 369.7 L708.2 374.4 L706.9 378.8 L705.2 382.8 L703.0 386.5 L700.4 389.7 L697.5 392.4 L694.4 394.5 L690.9 396.1 L687.3 397.1"/>
    <path d="M663.0 314.6 L666.4 312.9 L670.0 311.9 L673.8 311.4 L677.6 311.6 L681.5 312.4 L685.4 313.8 L689.3 315.8 L692.9 318.3 L696.5 321.4 L699.7 324.9 L702.7 328.9 L705.4 333.2 L707.7 337.8 L709.6 342.7 L711.0 347.7 L712.0 352.8 L712.6 357.9 L712.7 362.9 L712.3 367.8 L711.4 372.5 L710.1 376.9 L708.3 381.0 L706.1 384.7 L703.6 387.9 L700.7 390.6 L697.5 392.7 L694.1 394.3 L690.4 395.3"/>
    <path d="M666.1 312.7 L669.5 311.1 L673.2 310.0 L676.9 309.6 L680.8 309.7 L684.7 310.5 L688.6 311.9 L692.4 313.9 L696.1 316.5 L699.6 319.5 L702.9 323.1 L705.9 327.0 L708.5 331.3 L710.8 336.0 L712.7 340.8 L714.2 345.8 L715.2 350.9 L715.8 356.0 L715.8 361.1 L715.4 366.0 L714.6 370.7 L713.2 375.1 L711.5 379.2 L709.3 382.8 L706.8 386.0 L703.9 388.7 L700.7 390.9 L697.2 392.5 L693.6 393.4"/>
    <path d="M669.3 310.9 L672.7 309.2 L676.3 308.2 L680.1 307.7 L684.0 307.9 L687.9 308.7 L691.8 310.1 L695.6 312.1 L699.3 314.6 L702.8 317.7 L706.1 321.2 L709.1 325.2 L711.7 329.5 L714.0 334.1 L715.9 339.0 L717.4 344.0 L718.4 349.1 L718.9 354.2 L719.0 359.3 L718.6 364.2 L717.7 368.9 L716.4 373.3 L714.7 377.3 L712.5 381.0 L709.9 384.2 L707.0 386.9 L703.9 389.0 L700.4 390.6 L696.8 391.6"/>
    <path d="M672.5 309.1 L675.9 307.4 L679.5 306.4 L683.3 305.9 L687.1 306.1 L691.0 306.9 L694.9 308.3 L698.8 310.3 L702.4 312.8 L706.0 315.9 L709.2 319.4 L712.2 323.4 L714.9 327.7 L717.2 332.3 L719.1 337.2 L720.5 342.2 L721.5 347.3 L722.1 352.4 L722.2 357.4 L721.8 362.3 L720.9 367.0 L719.6 371.4 L717.8 375.5 L715.6 379.2 L713.1 382.4 L710.2 385.1 L707.0 387.2 L703.6 388.8 L699.9 389.8"/>
  </g>
  <!-- nut -->
  <path d="M651 313 L667 308 L692 310.5 L699 313 L706 326 L711 343 L713 358 L716 366 L720 363 L715 392 L705 400.5 L699 396.5 L702 378 L703 358 L698 338 L688 322 L672 316 Z" fill="#262626"/>
  <path d="M651 313 L667 308 L676 310 L660 316 Z" fill="#3a3a3a"/>
  <path d="M700 372 L715 370 L714 392 L705 400.5 L699 396.5 Z" fill="#303030"/>
  <path d="M690 316 L700 332 L705 350 L705 368" stroke="#484848" stroke-width="1.2" fill="none"/>
  <circle cx="679" cy="317.5" r="1.7" fill="#0a0a0a"/>
  <circle cx="710" cy="377" r="1.7" fill="#0a0a0a"/>
  <!-- terminals -->
  <path d="M730.5 309 L738 307.5 L740.5 311 L741 319.3 L734 320.5 L731 316 Z" fill="#d8d8d8"/>
  <path d="M734 314 L741 312 L741 319.3 L734 320.5 Z" fill="#a0a0a0"/>
  <!-- bezel -->
  <ellipse cx="644.5" cy="374.2" rx="33.5" ry="46.5" transform="rotate(-17 644.5 374.2)" fill="#2f2f2f" stroke="#5a5a5a" stroke-width="1"/>
  <ellipse cx="644.5" cy="376.5" rx="28.5" ry="38.5" transform="rotate(-17 644.5 376.5)" fill="#1b1b1b" stroke="#3e3e3e" stroke-width="0.8"/>
  <use href="#facecontent" transform="matrix(0.722,0.43,0.0086,0.828,537.6,-1.39)"/>
</g>

</svg>
</body></html>
